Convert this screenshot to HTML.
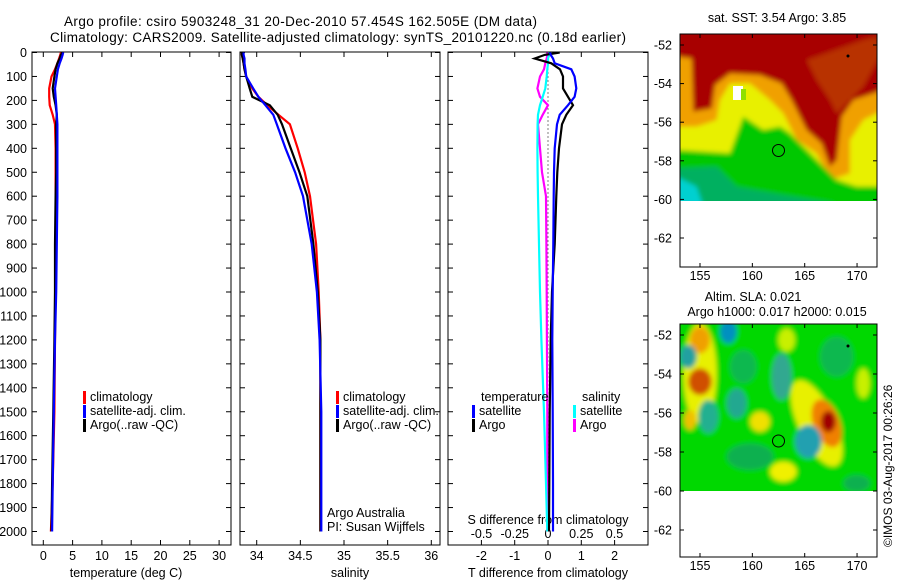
<!DOCTYPE html>
<html><head><meta charset="utf-8"><style>
body{margin:0;background:#fff}
svg{display:block;font-family:"Liberation Sans",sans-serif;font-size:12.5px}
</style></head><body>
<svg id="chart" width="900" height="580" viewBox="0 0 900 580" xmlns="http://www.w3.org/2000/svg">
<defs>
<filter id="bl" x="-10%" y="-10%" width="120%" height="120%"><feGaussianBlur stdDeviation="7"/></filter>
<clipPath id="c1"><rect x="680" y="34" width="197" height="167"/></clipPath>
<clipPath id="c2"><rect x="680" y="324" width="197" height="167"/></clipPath>
</defs>
<text x="64" y="26" textLength="473" font-size="13.5">Argo profile: csiro 5903248_31 20-Dec-2010 57.454S 162.505E (DM data)</text>
<text x="50" y="42" textLength="576" font-size="13.5">Climatology: CARS2009. Satellite-adjusted climatology: synTS_20101220.nc (0.18d earlier)</text>

<g>
<g clip-path="url(#c1)">
<g transform="translate(650,0) scale(0.3333)" filter="url(#bl)">
<rect x="80" y="90" width="620" height="530" fill="#e8f000"/>
<polygon fill="#f0a000" points="80,90,700,90,700,330,640,360,600,420,600,520,540,540,500,460,440,420,400,340,360,300,300,250,240,250,210,300,200,360,140,380,80,380"/>
<polygon fill="#a80000" points="80,90,700,90,700,270,610,300,575,350,560,480,540,500,515,430,470,390,425,300,395,250,330,225,240,220,195,255,185,325,130,335,125,175,80,170"/>
<polygon fill="#b83000" points="470,180,640,120,680,110,700,150,640,260,600,300,560,340,540,300,500,240"/>
<polygon fill="#00c800" points="80,450,240,460,280,350,310,370,340,390,390,380,420,400,460,440,520,500,560,540,620,560,700,560,700,620,80,620"/>
<polygon fill="#00b060" points="80,505,200,500,260,560,400,585,560,610,80,620"/>
<polygon fill="#00d0d0" points="80,530,140,560,160,620,80,620"/>
</g>
</g>
<rect x="680" y="34" width="197" height="233" fill="none" stroke="#000"/>
<rect x="733" y="86" width="10" height="14" fill="#fff"/><rect x="741" y="89" width="5" height="11" fill="#90e000"/>
<circle cx="778.5" cy="150.5" r="6" fill="none" stroke="#000"/>
<circle cx="848" cy="56" r="1.5" fill="#000"/>
<text x="777" y="22" text-anchor="middle">sat. SST: 3.54 Argo: 3.85</text>
</g>

<g>
<g clip-path="url(#c2)">
<g transform="translate(650,290) scale(0.3333)" filter="url(#bl)">
<rect x="80" y="90" width="620" height="530" fill="#00d800"/>
<ellipse cx="150" cy="250" rx="50" ry="150" fill="#e8f000"/>
<ellipse cx="150" cy="150" rx="30" ry="40" fill="#f0a000"/>
<ellipse cx="150" cy="275" rx="35" ry="40" fill="#d05000"/>
<ellipse cx="120" cy="390" rx="18" ry="30" fill="#f0c000"/>
<ellipse cx="500" cy="400" rx="55" ry="140" fill="#e8f000" transform="rotate(-25 500 400)"/>
<ellipse cx="530" cy="400" rx="40" ry="75" fill="#f08000" transform="rotate(-20 530 400)"/>
<ellipse cx="535" cy="395" rx="22" ry="32" fill="#a00000"/>
<ellipse cx="330" cy="395" rx="30" ry="30" fill="#f0e000"/>
<ellipse cx="400" cy="545" rx="40" ry="30" fill="#f0f000"/>
<ellipse cx="410" cy="150" rx="25" ry="35" fill="#c8f000"/>
<ellipse cx="640" cy="280" rx="20" ry="45" fill="#c8f000"/>
<ellipse cx="235" cy="125" rx="25" ry="35" fill="#0090c0"/>
<ellipse cx="115" cy="200" rx="25" ry="35" fill="#20a0a0"/>
<ellipse cx="175" cy="380" rx="30" ry="50" fill="#20b090"/>
<ellipse cx="260" cy="340" rx="30" ry="45" fill="#20a890"/>
<ellipse cx="395" cy="260" rx="30" ry="70" fill="#30a890"/>
<ellipse cx="475" cy="455" rx="40" ry="50" fill="#20a0b0"/>
<ellipse cx="300" cy="500" rx="70" ry="40" fill="#10b050"/>
<ellipse cx="620" cy="580" rx="40" ry="25" fill="#10b050"/>
<ellipse cx="560" cy="200" rx="50" ry="60" fill="#10b850"/>
<ellipse cx="280" cy="230" rx="40" ry="50" fill="#10b850"/>
</g>
</g>
<rect x="680" y="324" width="197" height="233" fill="none" stroke="#000"/>
<circle cx="778.5" cy="441" r="6" fill="none" stroke="#000"/>
<circle cx="848" cy="346" r="1.5" fill="#000"/>
<text x="753" y="301" text-anchor="middle">Altim. SLA: 0.021</text>
<text x="777" y="316" text-anchor="middle">Argo h1000: 0.017 h2000: 0.015</text>
<text transform="translate(892,547) rotate(-90)" font-size="12">©IMOS 03-Aug-2017 00:26:26</text>
</g>
<g id="g"></g>
</svg>
<script>
const depths=[0,10,25,45,70,100,150,185,220,260,300,400,500,600,800,1000,1200,1500,1800,2000];
const tClim=[3.0,2.9,2.7,2.4,2.0,1.4,1.0,1.0,1.1,1.6,2.0,2.1,2.1,2.1,2.1,2.1,2.0,1.9,1.6,1.3];
const tSat=[3.4,3.3,3.1,2.8,2.5,2.3,2.0,2.1,2.2,2.3,2.4,2.4,2.4,2.4,2.3,2.2,2.0,1.8,1.6,1.5];
const tArgo=[3.3,3.0,2.8,2.4,2.1,1.9,1.6,1.8,2.1,2.3,2.2,2.2,2.2,2.1,2.0,2.0,1.9,1.7,1.5,1.4];
const sClim=[33.83,33.83,33.84,33.85,33.86,33.88,33.95,34.02,34.12,34.25,34.38,34.47,34.55,34.61,34.68,34.71,34.73,34.73,34.73,34.73];
const sSat=[33.85,33.85,33.86,33.86,33.87,33.88,33.96,34.02,34.1,34.19,34.23,34.33,34.44,34.53,34.63,34.69,34.72,34.74,34.74,34.74];
const sArgo=[33.83,33.83,33.84,33.85,33.86,33.88,33.92,33.95,34.15,34.24,34.29,34.39,34.49,34.58,34.65,34.70,34.73,34.73,34.73,34.73];
const dTSat=[0.06,0.08,0.15,0.2,0.7,0.8,0.85,0.8,0.6,0.35,0.27,0.2,0.18,0.17,0.16,0.14,0.13,0.14,0.15,0.15];
const dTArgo=[0.35,-0.1,-0.4,0.1,0.36,0.45,0.45,0.6,0.75,0.55,0.42,0.33,0.28,0.25,0.2,0.12,0.08,0.05,0.04,0.03];
const dSSat=[0.01,0.01,0.0,0.0,-0.005,-0.01,-0.02,-0.04,-0.06,-0.075,-0.078,-0.08,-0.078,-0.075,-0.068,-0.06,-0.05,-0.03,-0.015,-0.005];
const dSArgo=[-0.005,-0.005,-0.01,-0.02,-0.03,-0.06,-0.08,-0.06,0.0,-0.04,-0.075,-0.06,-0.045,-0.015,-0.012,-0.01,-0.008,-0.005,-0.005,-0.005];
const depthTicks=[0,100,200,300,400,500,600,700,800,900,1000,1100,1200,1300,1400,1500,1600,1700,1800,1900,2000];
const tTicks=[0,5,10,15,20,25,30];
const sTicks=[34,34.5,35,35.5,36];
const dtTicks=[-2,-1,0,1,2];
const dsTicks=[-0.5,-0.25,0,0.25,0.5];
const latTicks=[-52,-54,-56,-58,-60,-62];
const lonTicks=[155,160,165,170];

const NS='http://www.w3.org/2000/svg',G=document.getElementById('g');
function el(t,a,txt){const e=document.createElementNS(NS,t);for(const k in a)e.setAttribute(k,a[k]);if(txt!==undefined)e.textContent=txt;G.appendChild(e);return e;}
const yD=d=>52.5+d*0.2395;
const xT=v=>43.3+v*5.86;
const xS=v=>256.7+(v-34)*87.3;
const xDT=v=>548+v*33.3;
const xDS=v=>548+v*133;
const lat1=v=>45+(-52-v)*19.3, lat2=v=>335+(-52-v)*19.5, lonX=v=>700+(v-155)*10.47;

[[32,231,'temperature-panel'],[240,440,'salinity-panel'],[448,648,'difference-panel']].forEach(p=>{
 const r=el('rect',{x:p[0],y:52,width:p[1]-p[0],height:493,fill:'none',stroke:'#000'});
 
 
 depthTicks.forEach(d=>{el('line',{x1:p[0],x2:p[0]+5,y1:yD(d),y2:yD(d),stroke:'#000'});el('line',{x1:p[1],x2:p[1]-5,y1:yD(d),y2:yD(d),stroke:'#000'});});
});
depthTicks.forEach(d=>{const t=el('text',{x:27,y:yD(d)+4.5,'text-anchor':'end'},d);
 
 });
function xticks(arr,f,lab,yl,top){arr.forEach(v=>{const x=f(v);el('line',{x1:x,x2:x,y1:545,y2:540,stroke:'#000'});
 if(top)el('line',{x1:x,x2:x,y1:52,y2:57,stroke:'#000'});
 const t=el('text',{x:x,y:yl,'text-anchor':'middle'},lab(v));
 
 });}
xticks(tTicks,xT,v=>v,560,true);
xticks(sTicks,xS,v=>v,560,true);
xticks(dtTicks,xDT,v=>v,560,true);
dsTicks.forEach(v=>{const t=el('text',{x:xDS(v),y:538,'text-anchor':'middle'},String(v));
 
 });
[['temperature (deg C)',126,'temperature-axis-title'],['salinity',350,'salinity-axis-title'],['T difference from climatology',548,'t-diff-axis-title']].forEach(a=>{
 const t=el('text',{x:a[1],y:577,'text-anchor':'middle'},a[0]);
 
 });
{const t=el('text',{x:548,y:524,'text-anchor':'middle'},'S difference from climatology');
 
 }
{const l=el('line',{x1:xDT(0),x2:xDT(0),y1:yD(0),y2:yD(2000),stroke:'#000','stroke-dasharray':'1 3'});
 
 }
function series(vals,f,col,name){const pts=vals.map((v,i)=>f(v).toFixed(1)+','+yD(depths[i]).toFixed(1)).join(' ');
 const p=el('polyline',{points:pts,fill:'none',stroke:col,'stroke-width':2.2});
 
 }
series(tClim,xT,'#f00','temp-climatology-line');
series(tArgo,xT,'#000','temp-argo-line');
series(tSat,xT,'#00f','temp-satellite-line');
series(sClim,xS,'#f00','sal-climatology-line');
series(sArgo,xS,'#000','sal-argo-line');
series(sSat,xS,'#00f','sal-satellite-line');
series(dSArgo,xDS,'#f0f','s-diff-argo-line');
series(dSSat,xDS,'#0ff','s-diff-satellite-line');
series(dTArgo,xDT,'#000','t-diff-argo-line');
series(dTSat,xDT,'#00f','t-diff-satellite-line');
function leg(x,y,col,txt){el('rect',{x:x,y:y-10,width:3,height:13,fill:col});const t=el('text',{x:x+7,y:y},txt);
 
 }
[[83],[336]].forEach(a=>{leg(a[0],401,'#f00','climatology');leg(a[0],415,'#00f','satellite-adj. clim.');leg(a[0],429,'#000','Argo(..raw -QC)');});
el('text',{x:481,y:401},'temperature');el('text',{x:582,y:401},'salinity');
leg(472,415,'#00f','satellite');leg(472,429,'#000','Argo');
leg(573,415,'#0ff','satellite');leg(573,429,'#f0f','Argo');
el('text',{x:327,y:517},'Argo Australia');el('text',{x:327,y:531},'PI: Susan Wijffels');
[[lat1,34,267,280],[lat2,324,557,570]].forEach(m=>{
 latTicks.forEach(v=>{const y=m[0](v);el('line',{x1:680,x2:684,y1:y,y2:y,stroke:'#000'});el('line',{x1:877,x2:873,y1:y,y2:y,stroke:'#000'});
  const t=el('text',{x:672,y:y+4.5,'text-anchor':'end'},v);
  
  });
 lonTicks.forEach(v=>{const x=lonX(v);el('line',{x1:x,x2:x,y1:m[1],y2:m[1]+4,stroke:'#000'});el('line',{x1:x,x2:x,y1:m[2],y2:m[2]-4,stroke:'#000'});
  const t=el('text',{x:x,y:m[3],'text-anchor':'middle'},v);
  
  });
});
</script>
</body></html>
